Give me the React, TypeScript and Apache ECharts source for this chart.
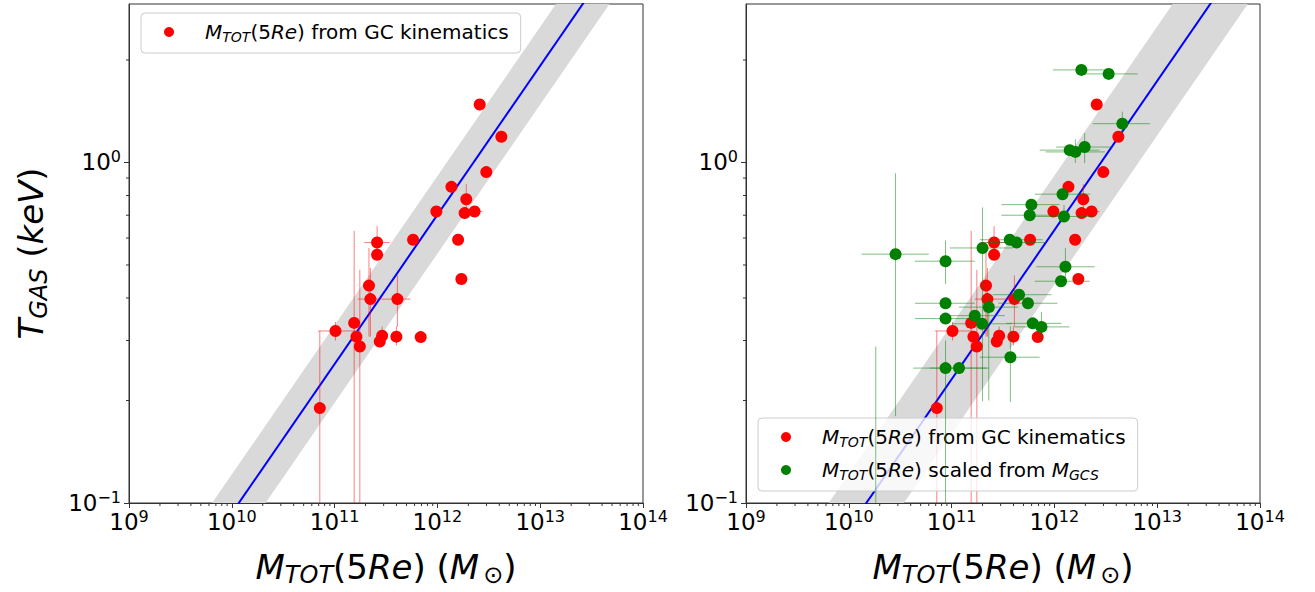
import React, { useEffect, useRef } from 'react';
import * as echarts from 'echarts';

const FONT = 'DejaVu Sans';
const X_MIN = 1e9;
const X_MAX = 1e14;
const Y_MIN = 0.1;
const Y_MAX = 2.92;

const RED_NAME = 'MTOT(5Re) from GC kinematics';
const GREEN_NAME = 'MTOT(5Re) scaled from MGCS';

// Red sample: M_TOT(5Re) from GC kinematics
const redM = [2.58e12, 4.19e12, 2.99e12, 1.37e12, 1.91e12, 9.77e11, 1.84e12, 2.30e12, 5.80e11, 1.59e12, 2.59e11, 2.59e11, 1.71e12, 2.16e11, 2.23e11, 4.08e11, 1.55e11, 1.02e11, 1.63e11, 1.76e11, 2.90e11, 2.75e11, 3.99e11, 6.88e11, 7.18e10];
const redT = [1.48, 1.19, 0.937, 0.848, 0.78, 0.718, 0.71, 0.718, 0.593, 0.593, 0.582, 0.536, 0.455, 0.435, 0.397, 0.397, 0.338, 0.320, 0.308, 0.288, 0.310, 0.298, 0.308, 0.307, 0.190];
const redMLo = [null, null, null, null, null, null, null, 2.05e12, null, null, 1.94e11, 2.30e11, null, null, null, 1.68e11, null, 6.9e10, null, null, null, null, null, null, null];
const redMHi = [null, null, null, null, null, null, null, 2.75e12, null, null, 3.44e11, 3.00e11, null, null, null, 5.47e11, null, 1.60e11, null, null, null, null, null, null, null];
const redTLo = [null, null, null, null, 0.70, null, null, null, null, null, 0.52, 0.52, null, 0.308, 0.308, 0.329, 0.05, 0.30, null, 0.05, 0.29, null, 0.29, null, 0.05];
const redTHi = [null, null, null, null, 0.863, null, null, null, null, null, 0.65, 0.56, null, 0.561, 0.49, 0.466, 0.63, 0.34, null, 0.484, 0.33, null, 0.33, null, 0.32];

// Green sample: M_TOT(5Re) scaled from M_GCS
const greenM = [1.83e12, 3.37e12, 4.58e12, 1.41e12, 1.60e12, 1.97e12, 1.20e12, 5.97e11, 5.75e11, 1.24e12, 3.68e11, 4.28e11, 2.0e11, 2.85e10, 8.73e10, 1.28e12, 1.16e12, 8.73e10, 4.53e11, 5.53e11, 2.30e11, 1.68e11, 8.73e10, 1.98e11, 6.15e11, 7.48e11, 3.73e11, 8.73e10, 1.18e11, 1.83e10];
const greenT = [1.87, 1.82, 1.30, 1.087, 1.074, 1.11, 0.807, 0.752, 0.70, 0.694, 0.593, 0.582, 0.561, 0.538, 0.513, 0.494, 0.448, 0.386, 0.409, 0.386, 0.376, 0.355, 0.348, 0.336, 0.337, 0.329, 0.268, 0.249, 0.249, 0.085];
const greenMLo = [9.68e11, 1.88e12, 2.36e12, 7.19e11, 8.2e11, 1.04e12, 6.44e11, 3.05e11, 3.05e11, 6.5e11, 1.88e11, 2.2e11, 9.6e10, 1.33e10, 4.39e10, 6.68e11, 6.44e11, 4.4e10, 2.51e11, 2.85e11, 1.18e11, 8.9e10, 4.4e10, 1.02e11, 3.42e11, 4.1e11, 1.88e11, 4.23e10, 6.1e10, null];
const greenMHi = [3.71e12, 6.46e12, 8.5e12, 2.75e12, 3.1e12, 3.71e12, 2.24e12, 1.12e12, 1.07e12, 2.36e12, 7.69e11, 8.3e11, 3.94e11, 6.0e10, 1.68e11, 2.47e12, 2.2e12, 1.68e11, 9.35e11, 1.07e12, 4.45e11, 3.29e11, 1.68e11, 3.85e11, 1.17e12, 1.4e12, 7.19e11, 2.18e11, 2.3e11, null];
const greenTLo = [null, null, 1.21, null, 0.997, 0.995, null, null, null, 0.68, null, null, 0.199, 0.18, 0.44, 0.44, null, null, null, null, 0.2, null, null, null, null, 0.297, 0.198, 0.1, null, 0.05];
const greenTHi = [null, null, 1.41, null, 1.17, 1.22, null, null, null, 0.75, null, null, 0.738, 0.929, 0.59, 0.56, null, null, null, null, 0.41, null, null, null, null, 0.364, 0.331, 0.3, null, 0.288];

// Fitted relation log T = -1 + slope * (log M - log M0), with scatter band (dex in T)
const FIT_SLOPE = 0.438;
const FIT_M0_LEFT = 1.17e10;
const FIT_M0_RIGHT = 1.48e10;
const BAND_LEFT = 0.114;
const BAND_RIGHT = 0.16;

const minorX: number[] = [];
for (let e = 9; e < 14; e++) for (let k = 2; k <= 9; k++) minorX.push(k * Math.pow(10, e));
const minorY = [0.2, 0.3, 0.4, 0.5, 0.6, 0.7, 0.8, 0.9, 2];

const fitT = (m: number, m0: number) => 0.1 * Math.pow(m / m0, FIT_SLOPE);

function buildErr(M: number[], T: number[], mlo: any[], mhi: any[], tlo: any[], thi: any[]) {
  return M.map((m, i) => [m, T[i], mlo[i] ?? m, mhi[i] ?? m, tlo[i] ?? T[i], thi[i] ?? T[i]]);
}

const clampX = (v: number) => Math.min(Math.max(v, X_MIN), X_MAX);
const clampY = (v: number) => Math.min(Math.max(v, Y_MIN), Y_MAX);

function errRender(color: string) {
  return (params: any, api: any) => {
    const m = api.value(0), t = api.value(1), mlo = api.value(2), mhi = api.value(3), tlo = api.value(4), thi = api.value(5);
    const children: any[] = [];
    const style = { stroke: color, lineWidth: 1 };
    if (mlo !== mhi && t >= Y_MIN && t <= Y_MAX) {
      const a = api.coord([clampX(mlo), t]);
      const b = api.coord([clampX(mhi), t]);
      children.push({ type: 'line', shape: { x1: a[0], y1: a[1], x2: b[0], y2: b[1] }, style });
    }
    if (tlo !== thi && m >= X_MIN && m <= X_MAX) {
      const a = api.coord([m, clampY(tlo)]);
      const b = api.coord([m, clampY(thi)]);
      children.push({ type: 'line', shape: { x1: a[0], y1: a[1], x2: b[0], y2: b[1] }, style });
    }
    return { type: 'group', children };
  };
}

function bandRender(half: number) {
  return (params: any, api: any) => {
    const m1 = api.value(0), t1 = api.value(1), m2 = api.value(2), t2 = api.value(3);
    const k = Math.pow(10, half);
    const pts = [api.coord([m1, t1 * k]), api.coord([m2, t2 * k]), api.coord([m2, t2 / k]), api.coord([m1, t1 / k])];
    return { type: 'polygon', shape: { points: pts }, style: { fill: '#d9d9d9' } };
  };
}

function tickRender(params: any, api: any) {
  const p = api.coord([api.value(0), api.value(1)]);
  const dir = api.value(2);
  const shape = dir === 0 ? { x1: p[0], y1: p[1], x2: p[0], y2: p[1] + 3 } : { x1: p[0] - 3, y1: p[1], x2: p[0], y2: p[1] };
  return { type: 'line', shape, style: { stroke: '#333', lineWidth: 1 } };
}

const supText = (n: number) => String(n).replace('-', '\u2212');
function powLabel(v: number) {
  const l = Math.log10(v);
  const e = Math.round(l);
  if (Math.abs(l - e) > 1e-6) return '';
  return `{b|10}{p|${supText(e)}}`;
}

const tickRich = {
  b: { fontFamily: FONT, fontSize: 23, color: '#000', lineHeight: 28 },
  p: { fontFamily: FONT, fontSize: 16, color: '#000', verticalAlign: 'top', lineHeight: 16 },
};

const titleRich = {
  i: { fontFamily: FONT, fontSize: 34, fontStyle: 'italic', color: '#000', lineHeight: 40 },
  n: { fontFamily: FONT, fontSize: 34, color: '#000', lineHeight: 40 },
  s: { fontFamily: FONT, fontSize: 24, fontStyle: 'italic', color: '#000', verticalAlign: 'bottom', lineHeight: 26 },
  so: { fontFamily: FONT, fontSize: 24, color: '#000', verticalAlign: 'bottom', lineHeight: 26, padding: [0, 0, 0, 4] },
};

const legendRich = {
  gap: { width: 26 },
  i: { fontFamily: FONT, fontSize: 20, fontStyle: 'italic', color: '#000', lineHeight: 24 },
  n: { fontFamily: FONT, fontSize: 20, color: '#000', lineHeight: 24 },
  s: { fontFamily: FONT, fontSize: 14, fontStyle: 'italic', color: '#000', verticalAlign: 'bottom', lineHeight: 16 },
};

function legendFormatter(name: string) {
  if (name === RED_NAME) return '{gap| }{i|M}{s|TOT}{n|(5}{i|Re}{n|) from GC kinematics}';
  return '{gap| }{i|M}{s|TOT}{n|(5}{i|Re}{n|) scaled from }{i|M}{s|GCS}';
}

function makeXAxis(gridIndex: number) {
  return {
    type: 'log', logBase: 10, gridIndex, min: X_MIN, max: X_MAX,
    axisLine: { show: true, lineStyle: { color: '#333', width: 1 } },
    axisTick: { show: true, length: 5, inside: false, lineStyle: { color: '#333', width: 1 } },
    axisLabel: { formatter: powLabel, rich: tickRich, margin: 5 },
    splitLine: { show: false },
    name: '{i|M}{s|TOT}{n|(5}{i|Re}{n|) (}{i|M}{so|\u2299}{n|)}',
    nameLocation: 'middle', nameGap: 44,
    nameTextStyle: { rich: titleRich },
  };
}

function makeYAxis(gridIndex: number, withName: boolean) {
  return {
    type: 'log', logBase: 10, gridIndex, min: Y_MIN, max: Y_MAX,
    axisLine: { show: true, lineStyle: { color: '#333', width: 1 } },
    axisTick: { show: true, length: 5, inside: false, lineStyle: { color: '#333', width: 1 } },
    axisLabel: { formatter: powLabel, rich: tickRich, margin: 8, showMaxLabel: false },
    splitLine: { show: false },
    name: withName ? '{i|T}{s|GAS}{n| (}{i|keV}{n|)}' : '',
    nameLocation: 'middle', nameGap: 78,
    nameTextStyle: { rich: titleRich },
  };
}

function panelSeries(idx: number, m0: number, half: number, withGreen: boolean) {
  const s: any[] = [];
  s.push({
    type: 'custom', xAxisIndex: idx, yAxisIndex: idx, clip: true, silent: true, z: 1,
    renderItem: bandRender(half),
    encode: { x: [0, 2], y: [1, 3] },
    data: [[X_MIN, fitT(X_MIN, m0), X_MAX, fitT(X_MAX, m0)]],
  });
  s.push({
    type: 'line', xAxisIndex: idx, yAxisIndex: idx, symbol: 'none', z: 2, silent: true, clip: true,
    lineStyle: { color: '#0000ff', width: 2 },
    data: [[X_MIN, fitT(X_MIN, m0)], [X_MAX, fitT(X_MAX, m0)]],
  });
  s.push({
    type: 'custom', xAxisIndex: idx, yAxisIndex: idx, silent: true, z: 3,
    renderItem: errRender('rgba(255,0,0,0.5)'),
    encode: { x: 0, y: 1 },
    data: buildErr(redM, redT, redMLo, redMHi, redTLo, redTHi),
  });
  s.push({
    type: 'scatter', name: RED_NAME, xAxisIndex: idx, yAxisIndex: idx, z: 4,
    symbol: 'circle', symbolSize: 12, itemStyle: { color: '#ff0000', opacity: 1 },
    data: redM.map((m, i) => [m, redT[i]]),
  });
  if (withGreen) {
    s.push({
      type: 'custom', xAxisIndex: idx, yAxisIndex: idx, silent: true, z: 5,
      renderItem: errRender('rgba(0,128,0,0.5)'),
      encode: { x: 0, y: 1 },
      data: buildErr(greenM, greenT, greenMLo, greenMHi, greenTLo, greenTHi),
    });
    s.push({
      type: 'scatter', name: GREEN_NAME, xAxisIndex: idx, yAxisIndex: idx, z: 6, clip: true,
      symbol: 'circle', symbolSize: 12, itemStyle: { color: '#008000', opacity: 1 },
      data: greenM.map((m, i) => [m, greenT[i]]),
    });
  }
  const tickData: any[] = [];
  minorX.forEach((v) => tickData.push([v, Y_MIN, 0]));
  minorY.forEach((v) => tickData.push([X_MIN, v, 1]));
  s.push({
    type: 'custom', xAxisIndex: idx, yAxisIndex: idx, silent: true, z: 7,
    renderItem: tickRender, encode: { x: 0, y: 1 }, data: tickData,
  });
  return s;
}

export default function App() {
  const ref = useRef<HTMLDivElement>(null);
  useEffect(() => {
    if (!ref.current) return;
    const chart = echarts.init(ref.current, undefined, { renderer: 'svg' });
    const legendBase = {
      orient: 'vertical', icon: 'circle', itemWidth: 10, itemHeight: 10, itemGap: 11,
      backgroundColor: 'rgba(255,255,255,0.8)', borderColor: '#cccccc', borderWidth: 1, borderRadius: 4,
      formatter: legendFormatter, textStyle: { rich: legendRich }, selectedMode: false,
    };
    chart.setOption({
      animation: false,
      backgroundColor: '#ffffff',
      grid: [
        { left: 129, top: 4, width: 514, height: 501, show: true, borderColor: '#333', borderWidth: 1, backgroundColor: 'transparent' },
        { left: 746, top: 4, width: 514, height: 501, show: true, borderColor: '#333', borderWidth: 1, backgroundColor: 'transparent' },
      ],
      xAxis: [makeXAxis(0), makeXAxis(1)],
      yAxis: [makeYAxis(0, true), makeYAxis(1, false)],
      legend: [
        { ...legendBase, left: 141, top: 13, padding: [9, 12, 9, 23], data: [RED_NAME] },
        { ...legendBase, left: 758, top: 418, padding: [9, 12, 9, 23], data: [RED_NAME, GREEN_NAME] },
      ],
      series: [...panelSeries(0, FIT_M0_LEFT, BAND_LEFT, false), ...panelSeries(1, FIT_M0_RIGHT, BAND_RIGHT, true)],
    });
    return () => chart.dispose();
  }, []);
  return <div ref={ref} style={{ position: 'fixed', left: 0, top: 0, width: 1315, height: 592 }} />;
}
